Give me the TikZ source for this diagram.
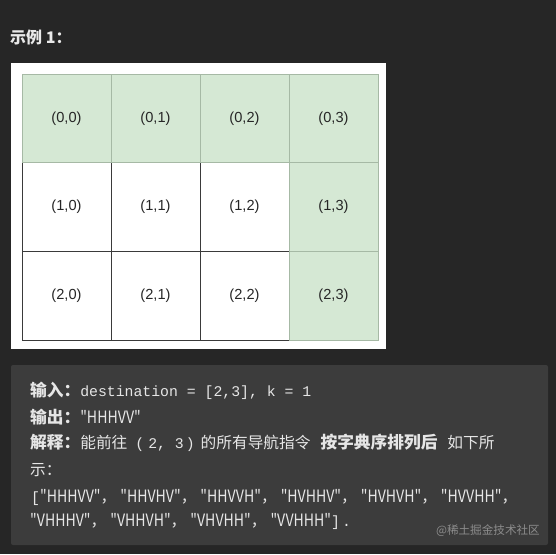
\documentclass[tikz,border=0pt]{standalone}
\usepackage{fontspec}
\setmainfont{Liberation Sans}
\newfontfamily\cjk{Noto Sans CJK SC}
\newfontfamily\cjkn[FakeStretch=0.83]{Noto Sans CJK SC}
\newfontfamily\code{Liberation Mono}
\definecolor{bg}{HTML}{262626}
\definecolor{boxbg}{HTML}{3C3C3C}
\definecolor{cellgreen}{HTML}{D5E8D4}
\definecolor{greenedge}{HTML}{A6B9A5}
\definecolor{darkedge}{HTML}{3A3A3A}
\definecolor{txt}{HTML}{E6E6E6}
\definecolor{wm}{HTML}{8C8C8C}
\tikzset{
  cellw/.style={draw=darkedge, fill=white, line width=0.8pt, minimum width=89pt, minimum height=88.7pt, inner sep=0pt, text=black!85, font=\fontsize{14.6}{16}\selectfont},
  cellg/.style={cellw, draw=greenedge, fill=cellgreen},
  line/.style={anchor=west, inner sep=0pt, text=txt},
}
\newcommand{\cj}[1]{{\cjk\fontsize{15.7}{18}\selectfont #1}}
\newcommand{\cjB}[1]{{\cjk\bfseries\fontsize{16.7}{18}\selectfont #1}}
\newcommand{\cs}[1]{{\cjkn\fontsize{17}{18}\selectfont #1}}
\newcommand{\cd}[1]{{\code\fontsize{14.8}{18}\selectfont #1}}
\newcommand{\cm}{\cj{，}\hspace{4pt}}
\begin{document}
\begin{tikzpicture}[x=1pt,y=-1pt]
\path[use as bounding box, fill=bg] (0,0) rectangle (556,554);
% title
\node[anchor=west, inner sep=0pt, text=txt!90] (title) at (10,37) {\cjk\bfseries\fontsize{16}{18}\selectfont 示例 1：};
% picture frame
\fill[white] (11,63) rectangle (386,349);
% white cells
\foreach \r/\c in {1/0,1/1,1/2,2/0,2/1,2/2}{
  \node[cellw] (c\r\c) at ({22+89*\c+44.5},{74+88.67*\r+44.33}) {(\r,\c)};
}
% green cells
\foreach \r/\c in {0/0,0/1,0/2,0/3,1/3,2/3}{
  \node[cellg] (c\r\c) at ({22+89*\c+44.5},{74+88.67*\r+44.33}) {(\r,\c)};
}
% text box
\fill[boxbg, rounded corners=2pt] (11,365) rectangle (548,545);
\node[line] (l1) at (30,391) {\cjB{输入：}\cd{destination = [2,3], k = 1}};
\node[line] (l2) at (30,417) {\cjB{输出：}\cs{"HHHVV"}};
\node[line] (l3) at (30,443) {\cjB{解释：}\cj{能前往}\hspace{8pt}\cd{(\kern4pt2, 3\kern2pt)}\hspace{6pt}\cj{的所有导航指令}\hspace{10pt}\cjB{按字典序排列后}\hspace{10pt}\cj{如下所}};
\node[line] (l4) at (30,470) {\cj{示：}};
\node[line] (l5) at (31,497) {\cd{[}\cs{"HHHVV"}\cm\cs{"HHVHV"}\cm\cs{"HHVVH"}\cm\cs{"HVHHV"}\cm\cs{"HVHVH"}\cm\cs{"HVVHH"}\cj{，}};
\node[line] (l6) at (30,521) {\cs{"VHHHV"}\cm\cs{"VHHVH"}\cm\cs{"VHVHH"}\cm\cs{"VVHHH"}\cd{]\kern2pt.}};
\node[anchor=east, inner sep=0pt, text=wm] (wmk) at (540,531) {\cjk\fontsize{11.6}{14}\selectfont @稀土掘金技术社区};
\end{tikzpicture}
\end{document}
